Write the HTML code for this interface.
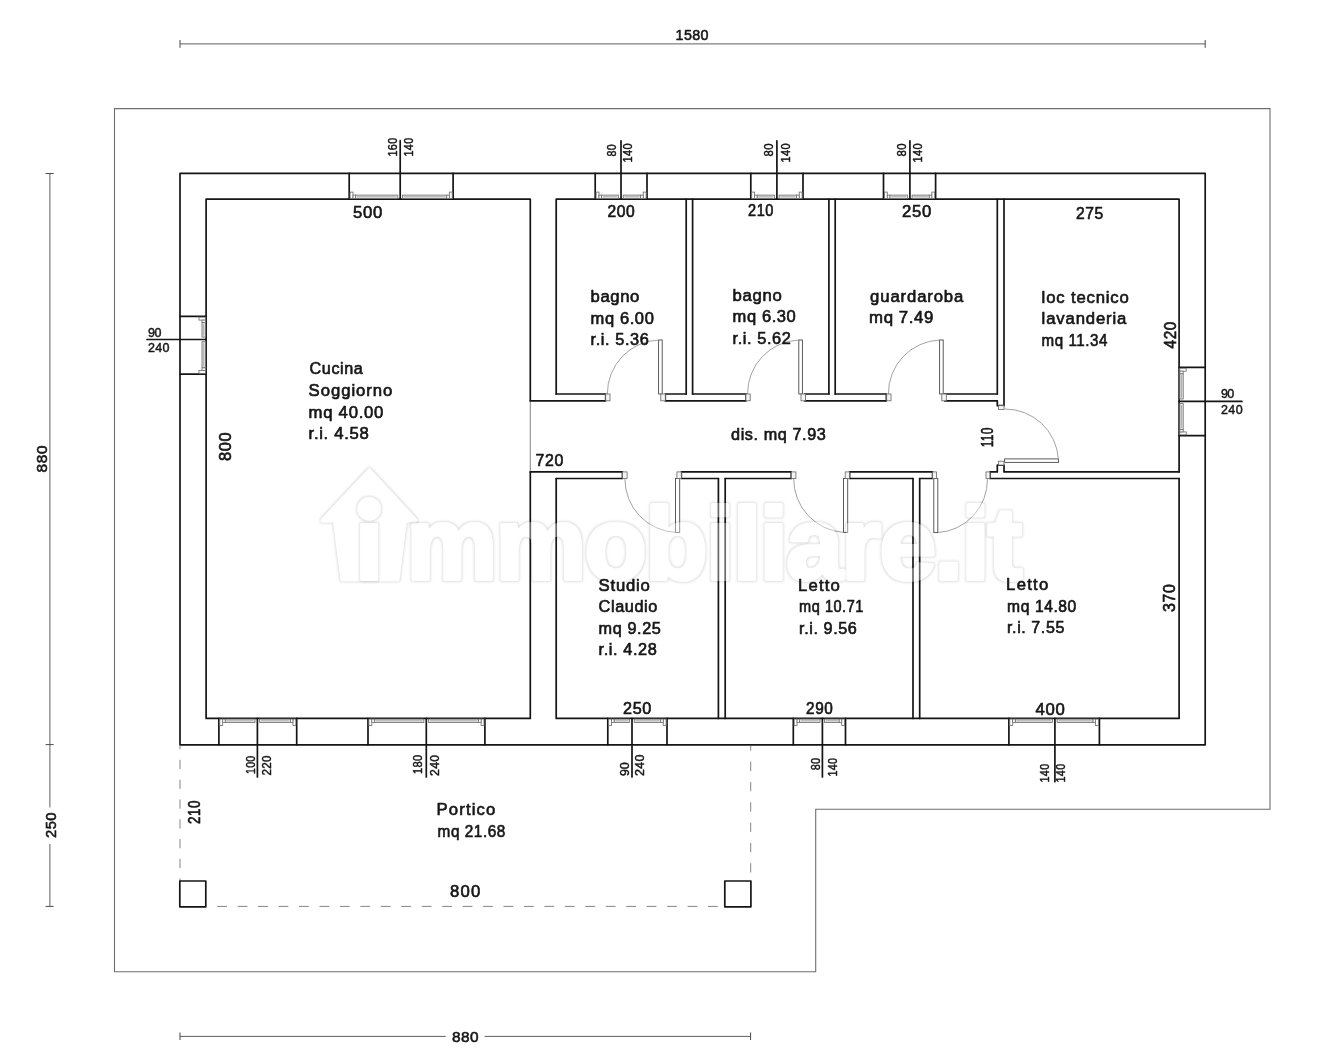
<!DOCTYPE html>
<html lang="it">
<head>
<meta charset="utf-8">
<title>Planimetria</title>
<style>
html,body{margin:0;padding:0;background:#fff;}
body{width:1339px;height:1050px;overflow:hidden;}
svg{display:block;will-change:transform;}
svg text{font-family:"Liberation Sans",sans-serif;fill:#161616;stroke:#161616;stroke-width:.65px;paint-order:stroke;stroke-linejoin:round;}
.tl{letter-spacing:.6px;}
.to{stroke-width:.6px;letter-spacing:.4px;}
.ts{stroke-width:.45px;letter-spacing:.3px;}
.w{fill:none;stroke:#151515;stroke-width:1.7;stroke-linecap:round;stroke-linejoin:round;}
.thin{stroke:#8c8c8c;stroke-width:1.1;}
.site{fill:none;stroke:#6e6e6e;stroke-width:1.1;}
.dim{stroke:#606060;stroke-width:1;}
.tick{stroke:#4a4a4a;stroke-width:1;}
.dash{stroke:#858585;stroke-width:1;fill:none;}
.glass{fill:#e4e4e4;stroke:#6a6a6a;stroke-width:.8;}
.gl2{stroke:#9a9a9a;stroke-width:.7;}
.frm{fill:#fff;stroke:#6a6a6a;stroke-width:.8;}
.leaf{fill:#fff;stroke:#4a4a4a;stroke-width:.9;}
.jamb{fill:#f4f4f4;stroke:#666;stroke-width:.8;}
.arc{fill:none;stroke:#8a8a8a;stroke-width:.8;}
.wm path,.wm text,.wm circle{fill:#fff;stroke:#fff;stroke-width:4px;stroke-linejoin:round;stroke-linecap:round;paint-order:normal;letter-spacing:-1.6px;font-weight:700;}

</style>
</head>
<body>
<svg width="1339" height="1050" viewBox="0 0 1339 1050">
<rect x="0" y="0" width="1339" height="1050" fill="#ffffff"/>
<defs><filter id="wmf" x="-3%" y="-15%" width="106%" height="130%" color-interpolation-filters="sRGB">
<feMorphology in="SourceAlpha" operator="dilate" radius="1.2" result="d"/>
<feGaussianBlur in="d" stdDeviation="0.8" result="b"/>
<feComposite in="b" in2="SourceAlpha" operator="out" result="ring"/>
<feFlood flood-color="#000" flood-opacity="0.12" result="c"/>
<feComposite in="c" in2="ring" operator="in" result="halo"/>
<feComponentTransfer in="SourceGraphic" result="sg"><feFuncA type="linear" slope="0.36"/></feComponentTransfer>
<feMerge><feMergeNode in="halo"/><feMergeNode in="sg"/></feMerge>
</filter></defs>

<g id="site">
<polygon class="site" points="114.5,108.6 1270.0,108.6 1270.0,809.2 815.7,809.2 815.7,971.7 114.5,971.7"/>
</g>
<g id="dims">
<line class="dim" x1="180.0" y1="43.9" x2="1205.2" y2="43.9"/>
<line class="tick" x1="180.0" y1="40.0" x2="180.0" y2="47.8"/>
<line class="tick" x1="1205.2" y1="40.0" x2="1205.2" y2="47.8"/>
<line class="dim" x1="49.9" y1="173.4" x2="49.9" y2="807.5"/>
<line class="dim" x1="49.9" y1="844.0" x2="49.9" y2="906.4"/>
<line class="tick" x1="45.6" y1="173.5" x2="53.6" y2="173.5"/>
<line class="tick" x1="45.6" y1="744.6" x2="53.6" y2="744.6"/>
<line class="tick" x1="45.6" y1="906.4" x2="53.6" y2="906.4"/>
<line class="dim" x1="180.0" y1="1036.4" x2="445.7" y2="1036.4"/>
<line class="dim" x1="484.6" y1="1036.4" x2="750.6" y2="1036.4"/>
<line class="tick" x1="180.0" y1="1032.5" x2="180.0" y2="1040.0"/>
<line class="tick" x1="750.6" y1="1032.5" x2="750.6" y2="1040.0"/>
</g>
<g id="walls">
<rect class="w" x="180.0" y="173.4" width="1025.2" height="571.4"/>
<polyline class="w" points="530.3,400.8 530.3,199.2 206.1,199.2 206.1,718.4 530.3,718.4 530.3,471.9"/>
<line class="thin" x1="530.3" y1="400.8" x2="530.3" y2="471.9"/>
<polyline class="w" points="556.2,394.0 556.2,199.2 1179.1,199.2 1179.1,471.9"/>
<polyline class="w" points="1179.1,478.5 1179.1,718.4 556.2,718.4 556.2,478.5"/>
<line class="w" x1="686.2" y1="199.2" x2="686.2" y2="394.0"/>
<line class="w" x1="692.6" y1="199.2" x2="692.6" y2="394.0"/>
<line class="w" x1="828.9" y1="199.2" x2="828.9" y2="394.0"/>
<line class="w" x1="835.2" y1="199.2" x2="835.2" y2="394.0"/>
<line class="w" x1="997.3" y1="199.2" x2="997.3" y2="394.0"/>
<polyline class="w" points="1004.0,199.2 1004.0,405.7 997.3,405.7 997.3,400.8"/>
<polyline class="w" points="556.2,394.0 605.7,394.0 605.7,400.8 530.3,400.8"/>
<polyline class="w" points="686.2,394.0 665.3,394.0 665.3,400.8 746.1,400.8 746.1,394.0 692.6,394.0"/>
<polyline class="w" points="828.9,394.0 804.6,394.0 804.6,400.8 886.4,400.8 886.4,394.0 835.2,394.0"/>
<polyline class="w" points="997.3,394.0 944.6,394.0 944.6,400.8 997.3,400.8"/>
<polyline class="w" points="530.3,471.9 622.5,471.9 622.5,478.5 556.2,478.5"/>
<polyline class="w" points="718.4,478.5 681.3,478.5 681.3,471.9 791.3,471.9 791.3,478.5 725.2,478.5"/>
<polyline class="w" points="913.0,478.5 849.6,478.5 849.6,471.9 932.6,471.9 932.6,478.5 919.7,478.5"/>
<polyline class="w" points="1179.1,471.9 1004.0,471.9 1004.0,465.1 997.3,465.1 997.3,471.9 989.9,471.9 989.9,478.5 1179.1,478.5"/>
<line class="w" x1="718.4" y1="478.5" x2="718.4" y2="718.4"/>
<line class="w" x1="725.2" y1="478.5" x2="725.2" y2="718.4"/>
<line class="w" x1="913.0" y1="478.5" x2="913.0" y2="718.4"/>
<line class="w" x1="919.7" y1="478.5" x2="919.7" y2="718.4"/>
</g>
<g id="windows">
<line class="w" x1="349.2" y1="173.4" x2="349.2" y2="199.2"/>
<line class="w" x1="453.1" y1="173.4" x2="453.1" y2="199.2"/>
<rect class="glass" x="355.5" y="195.1" width="42.3" height="3.4"/>
<line class="gl2" x1="357.0" y1="196.8" x2="396.3" y2="196.8"/>
<rect class="glass" x="402.4" y="195.1" width="44.4" height="3.4"/>
<line class="gl2" x1="403.9" y1="196.8" x2="445.3" y2="196.8"/>
<rect class="frm" x="350.1" y="192.1" width="2.9" height="6.4"/>
<rect class="frm" x="353.0" y="195.1" width="2.5" height="3.4"/>
<rect class="frm" x="449.3" y="192.1" width="2.9" height="6.4"/>
<rect class="frm" x="446.8" y="195.1" width="2.5" height="3.4"/>
<line class="w" x1="400.2" y1="140.7" x2="400.2" y2="199.2"/>
<line class="w" x1="595.2" y1="173.4" x2="595.2" y2="199.2"/>
<line class="w" x1="647.0" y1="173.4" x2="647.0" y2="199.2"/>
<rect class="glass" x="601.5" y="195.1" width="17.1" height="3.4"/>
<line class="gl2" x1="603.0" y1="196.8" x2="617.1" y2="196.8"/>
<rect class="glass" x="623.2" y="195.1" width="17.5" height="3.4"/>
<line class="gl2" x1="624.7" y1="196.8" x2="639.2" y2="196.8"/>
<rect class="frm" x="596.1" y="192.1" width="2.9" height="6.4"/>
<rect class="frm" x="599.0" y="195.1" width="2.5" height="3.4"/>
<rect class="frm" x="643.2" y="192.1" width="2.9" height="6.4"/>
<rect class="frm" x="640.7" y="195.1" width="2.5" height="3.4"/>
<line class="w" x1="621.0" y1="140.8" x2="621.0" y2="199.2"/>
<line class="w" x1="750.8" y1="173.4" x2="750.8" y2="199.2"/>
<line class="w" x1="803.0" y1="173.4" x2="803.0" y2="199.2"/>
<rect class="glass" x="757.1" y="195.1" width="17.4" height="3.4"/>
<line class="gl2" x1="758.6" y1="196.8" x2="773.0" y2="196.8"/>
<rect class="glass" x="779.1" y="195.1" width="17.6" height="3.4"/>
<line class="gl2" x1="780.6" y1="196.8" x2="795.2" y2="196.8"/>
<rect class="frm" x="751.7" y="192.1" width="2.9" height="6.4"/>
<rect class="frm" x="754.6" y="195.1" width="2.5" height="3.4"/>
<rect class="frm" x="799.2" y="192.1" width="2.9" height="6.4"/>
<rect class="frm" x="796.7" y="195.1" width="2.5" height="3.4"/>
<line class="w" x1="776.9" y1="140.8" x2="776.9" y2="199.2"/>
<line class="w" x1="883.5" y1="173.4" x2="883.5" y2="199.2"/>
<line class="w" x1="935.6" y1="173.4" x2="935.6" y2="199.2"/>
<rect class="glass" x="889.8" y="195.1" width="17.7" height="3.4"/>
<line class="gl2" x1="891.3" y1="196.8" x2="906.0" y2="196.8"/>
<rect class="glass" x="912.1" y="195.1" width="17.2" height="3.4"/>
<line class="gl2" x1="913.6" y1="196.8" x2="927.8" y2="196.8"/>
<rect class="frm" x="884.4" y="192.1" width="2.9" height="6.4"/>
<rect class="frm" x="887.3" y="195.1" width="2.5" height="3.4"/>
<rect class="frm" x="931.8" y="192.1" width="2.9" height="6.4"/>
<rect class="frm" x="929.3" y="195.1" width="2.5" height="3.4"/>
<line class="w" x1="909.9" y1="140.8" x2="909.9" y2="199.2"/>
<line class="w" x1="218.9" y1="718.4" x2="218.9" y2="744.8"/>
<line class="w" x1="296.7" y1="718.4" x2="296.7" y2="744.8"/>
<rect class="glass" x="225.2" y="719.1" width="29.8" height="3.4"/>
<line class="gl2" x1="226.7" y1="720.8" x2="253.5" y2="720.8"/>
<rect class="glass" x="259.6" y="719.1" width="30.8" height="3.4"/>
<line class="gl2" x1="261.1" y1="720.8" x2="288.9" y2="720.8"/>
<rect class="frm" x="219.8" y="719.1" width="2.9" height="6.4"/>
<rect class="frm" x="222.7" y="719.1" width="2.5" height="3.4"/>
<rect class="frm" x="292.9" y="719.1" width="2.9" height="6.4"/>
<rect class="frm" x="290.4" y="719.1" width="2.5" height="3.4"/>
<line class="w" x1="257.4" y1="718.4" x2="257.4" y2="776.9"/>
<line class="w" x1="368.0" y1="718.4" x2="368.0" y2="744.8"/>
<line class="w" x1="484.9" y1="718.4" x2="484.9" y2="744.8"/>
<rect class="glass" x="374.3" y="719.1" width="49.6" height="3.4"/>
<line class="gl2" x1="375.8" y1="720.8" x2="422.4" y2="720.8"/>
<rect class="glass" x="428.5" y="719.1" width="50.1" height="3.4"/>
<line class="gl2" x1="430.0" y1="720.8" x2="477.1" y2="720.8"/>
<rect class="frm" x="368.9" y="719.1" width="2.9" height="6.4"/>
<rect class="frm" x="371.8" y="719.1" width="2.5" height="3.4"/>
<rect class="frm" x="481.1" y="719.1" width="2.9" height="6.4"/>
<rect class="frm" x="478.6" y="719.1" width="2.5" height="3.4"/>
<line class="w" x1="426.3" y1="718.4" x2="426.3" y2="776.9"/>
<line class="w" x1="607.8" y1="718.4" x2="607.8" y2="744.8"/>
<line class="w" x1="667.0" y1="718.4" x2="667.0" y2="744.8"/>
<rect class="glass" x="614.1" y="719.1" width="15.5" height="3.4"/>
<line class="gl2" x1="615.6" y1="720.8" x2="628.1" y2="720.8"/>
<rect class="glass" x="634.2" y="719.1" width="26.5" height="3.4"/>
<line class="gl2" x1="635.7" y1="720.8" x2="659.2" y2="720.8"/>
<rect class="frm" x="608.7" y="719.1" width="2.9" height="6.4"/>
<rect class="frm" x="611.6" y="719.1" width="2.5" height="3.4"/>
<rect class="frm" x="663.2" y="719.1" width="2.9" height="6.4"/>
<rect class="frm" x="660.7" y="719.1" width="2.5" height="3.4"/>
<line class="w" x1="632.0" y1="718.4" x2="632.0" y2="776.9"/>
<line class="w" x1="793.3" y1="718.4" x2="793.3" y2="744.8"/>
<line class="w" x1="845.5" y1="718.4" x2="845.5" y2="744.8"/>
<rect class="glass" x="799.6" y="719.1" width="20.4" height="3.4"/>
<line class="gl2" x1="801.1" y1="720.8" x2="818.5" y2="720.8"/>
<rect class="glass" x="824.6" y="719.1" width="14.6" height="3.4"/>
<line class="gl2" x1="826.1" y1="720.8" x2="837.7" y2="720.8"/>
<rect class="frm" x="794.2" y="719.1" width="2.9" height="6.4"/>
<rect class="frm" x="797.1" y="719.1" width="2.5" height="3.4"/>
<rect class="frm" x="841.7" y="719.1" width="2.9" height="6.4"/>
<rect class="frm" x="839.2" y="719.1" width="2.5" height="3.4"/>
<line class="w" x1="822.4" y1="718.4" x2="822.4" y2="776.9"/>
<line class="w" x1="1008.9" y1="718.4" x2="1008.9" y2="744.8"/>
<line class="w" x1="1099.4" y1="718.4" x2="1099.4" y2="744.8"/>
<rect class="glass" x="1015.2" y="719.1" width="37.3" height="3.4"/>
<line class="gl2" x1="1016.7" y1="720.8" x2="1051.0" y2="720.8"/>
<rect class="glass" x="1057.1" y="719.1" width="36.0" height="3.4"/>
<line class="gl2" x1="1058.6" y1="720.8" x2="1091.6" y2="720.8"/>
<rect class="frm" x="1009.8" y="719.1" width="2.9" height="6.4"/>
<rect class="frm" x="1012.7" y="719.1" width="2.5" height="3.4"/>
<rect class="frm" x="1095.6" y="719.1" width="2.9" height="6.4"/>
<rect class="frm" x="1093.1" y="719.1" width="2.5" height="3.4"/>
<line class="w" x1="1054.9" y1="718.4" x2="1054.9" y2="781.7"/>
<line class="w" x1="180.0" y1="316.3" x2="206.1" y2="316.3"/>
<line class="w" x1="180.0" y1="374.2" x2="206.1" y2="374.2"/>
<rect class="glass" x="202.0" y="322.6" width="3.4" height="14.5"/>
<line class="gl2" x1="203.7" y1="324.1" x2="203.7" y2="335.6"/>
<rect class="glass" x="202.0" y="341.7" width="3.4" height="26.2"/>
<line class="gl2" x1="203.7" y1="343.2" x2="203.7" y2="366.4"/>
<rect class="frm" x="199.0" y="317.2" width="6.4" height="2.9"/>
<rect class="frm" x="202.0" y="320.1" width="3.4" height="2.5"/>
<rect class="frm" x="199.0" y="370.4" width="6.4" height="2.9"/>
<rect class="frm" x="202.0" y="367.9" width="3.4" height="2.5"/>
<line class="w" x1="147.0" y1="339.5" x2="206.1" y2="339.5"/>
<line class="w" x1="1179.1" y1="367.4" x2="1205.2" y2="367.4"/>
<line class="w" x1="1179.1" y1="435.7" x2="1205.2" y2="435.7"/>
<rect class="glass" x="1179.8" y="373.7" width="3.4" height="25.3"/>
<line class="gl2" x1="1181.5" y1="375.2" x2="1181.5" y2="397.5"/>
<rect class="glass" x="1179.8" y="403.6" width="3.4" height="25.8"/>
<line class="gl2" x1="1181.5" y1="405.1" x2="1181.5" y2="427.9"/>
<rect class="frm" x="1179.8" y="368.3" width="6.4" height="2.9"/>
<rect class="frm" x="1179.8" y="371.2" width="3.4" height="2.5"/>
<rect class="frm" x="1179.8" y="431.9" width="6.4" height="2.9"/>
<rect class="frm" x="1179.8" y="429.4" width="3.4" height="2.5"/>
<line class="w" x1="1179.1" y1="401.4" x2="1241.9" y2="401.4"/>
</g>
<g id="doors">
<rect class="leaf" x="658.6" y="340.0" width="3.6" height="54.0"/>
<path class="arc" d="M658.6,340.0 A53.5,53.5 0 0 0 607.4,394.0"/>
<rect class="jamb" x="605.7" y="394.0" width="4.3" height="6.8"/>
<rect class="jamb" x="660.8" y="394.0" width="4.5" height="6.8"/>
<rect class="leaf" x="798.8" y="340.0" width="3.6" height="54.0"/>
<path class="arc" d="M798.8,340.0 A53.5,53.5 0 0 0 747.6,394.0"/>
<rect class="jamb" x="745.9" y="394.0" width="4.3" height="6.8"/>
<rect class="jamb" x="801.0" y="394.0" width="4.5" height="6.8"/>
<rect class="leaf" x="939.6" y="340.0" width="3.6" height="54.0"/>
<path class="arc" d="M939.6,340.0 A53.5,53.5 0 0 0 888.4,394.0"/>
<rect class="jamb" x="886.7" y="394.0" width="4.3" height="6.8"/>
<rect class="jamb" x="941.8" y="394.0" width="4.5" height="6.8"/>
<rect class="leaf" x="675.5" y="478.5" width="4.2" height="53.9"/>
<path class="arc" d="M675.5,532.4 A53.5,53.5 0 0 1 624.9,478.5"/>
<rect class="jamb" x="622.5" y="471.9" width="4.6" height="6.6"/>
<rect class="jamb" x="676.9" y="471.9" width="4.4" height="6.6"/>
<rect class="leaf" x="843.5" y="478.5" width="4.2" height="53.9"/>
<path class="arc" d="M843.5,532.4 A53.5,53.5 0 0 1 793.7,478.5"/>
<rect class="jamb" x="791.3" y="471.9" width="4.6" height="6.6"/>
<rect class="jamb" x="845.2" y="471.9" width="4.4" height="6.6"/>
<rect class="leaf" x="933.8" y="478.5" width="4.0" height="54.1"/>
<path class="arc" d="M937.8,532.6 A53.0,53.0 0 0 0 987.4,478.5"/>
<rect class="jamb" x="932.6" y="471.9" width="4.0" height="6.6"/>
<rect class="jamb" x="986.0" y="471.9" width="3.9" height="6.6"/>
<rect class="leaf" x="1004.6" y="458.9" width="53.8" height="3.5"/>
<path class="arc" d="M1058.4,458.9 A53.5,53.5 0 0 0 1004.8,409.0"/>
<rect class="jamb" x="998.6" y="405.7" width="5.4" height="3.9"/>
<rect class="jamb" x="998.6" y="461.2" width="5.4" height="3.9"/>
</g>
<g id="portico">
<line class="dash" x1="180.0" y1="745.8" x2="180.0" y2="881" stroke-dasharray="9.3 10.5" stroke-dashoffset="5.8"/>
<line class="dash" x1="750.7" y1="745.8" x2="750.7" y2="881" stroke-dasharray="9.3 11" stroke-dashoffset="4.4"/>
<line class="dash" x1="217.2" y1="906.4" x2="724.8" y2="906.4" stroke-dasharray="9.8 10.65"/>
<rect class="w" x="179.8" y="881.0" width="26.0" height="25.8"/>
<rect class="w" x="724.8" y="881.0" width="26.1" height="25.8"/>
</g>
<g id="wm" class="wm"><path filter="url(#wmf)" d="M369.4,470.4 L415.5,520.4 L405,520.4 L397.6,579.2 L342.4,579.2 L335,520.4 L322.5,520.4 Z"/><g filter="url(#wmf)"><circle cx="369.2" cy="508.9" r="9.8"/>
<text x="355 406.4" y="578.8" font-size="102">immobiliare.it</text></g></g>
<g id="labels">
<text class="tl" x="309.60" y="373.90" font-size="16.7" textLength="53.80" lengthAdjust="spacingAndGlyphs">Cucina</text>
<text class="tl" x="308.60" y="396.00" font-size="16.7" textLength="84.31" lengthAdjust="spacing">Soggiorno</text>
<text class="tl" x="308.60" y="417.90" font-size="16.7" textLength="75.31" lengthAdjust="spacing">mq 40.00</text>
<text class="tl" x="308.59" y="439.00" font-size="16.7" textLength="60.82" lengthAdjust="spacing">r.i. 4.58</text>
<text class="tl" x="590.59" y="302.30" font-size="16.7" textLength="49.31" lengthAdjust="spacingAndGlyphs">bagno</text>
<text class="tl" x="590.59" y="323.80" font-size="16.7" textLength="63.83" lengthAdjust="spacingAndGlyphs">mq 6.00</text>
<text class="tl" x="590.59" y="345.30" font-size="16.7" textLength="58.81" lengthAdjust="spacingAndGlyphs">r.i. 5.36</text>
<text class="tl" x="732.59" y="300.50" font-size="16.7" textLength="49.82" lengthAdjust="spacing">bagno</text>
<text class="tl" x="732.59" y="322.30" font-size="16.7" textLength="63.81" lengthAdjust="spacingAndGlyphs">mq 6.30</text>
<text class="tl" x="732.59" y="343.80" font-size="16.7" textLength="58.81" lengthAdjust="spacingAndGlyphs">r.i. 5.62</text>
<text class="tl" x="870.11" y="301.70" font-size="16.7" textLength="93.79" lengthAdjust="spacing">guardaroba</text>
<text class="tl" x="869.08" y="323.30" font-size="16.7" textLength="64.85" lengthAdjust="spacingAndGlyphs">mq 7.49</text>
<text class="tl" x="1041.60" y="302.50" font-size="16.7" textLength="87.80" lengthAdjust="spacing">loc tecnico</text>
<text class="tl" x="1041.60" y="323.80" font-size="16.7" textLength="85.31" lengthAdjust="spacing">lavanderia</text>
<text class="tl" x="1041.61" y="345.70" font-size="16.7" textLength="66.29" lengthAdjust="spacingAndGlyphs">mq 11.34</text>
<text class="tl" x="731.10" y="440.00" font-size="16.7" textLength="95.29" lengthAdjust="spacingAndGlyphs">dis. mq 7.93</text>
<text class="tl" x="598.60" y="590.60" font-size="16.7" textLength="51.80" lengthAdjust="spacing">Studio</text>
<text class="tl" x="598.61" y="612.30" font-size="16.7" textLength="59.29" lengthAdjust="spacingAndGlyphs">Claudio</text>
<text class="tl" x="598.60" y="633.80" font-size="16.7" textLength="62.80" lengthAdjust="spacingAndGlyphs">mq 9.25</text>
<text class="tl" x="598.60" y="655.30" font-size="16.7" textLength="58.80" lengthAdjust="spacingAndGlyphs">r.i. 4.28</text>
<text class="tl" x="798.07" y="590.60" font-size="16.7" textLength="42.37" lengthAdjust="spacing">Letto</text>
<text class="tl" x="799.10" y="612.30" font-size="16.7" textLength="64.80" lengthAdjust="spacingAndGlyphs">mq 10.71</text>
<text class="tl" x="799.09" y="633.80" font-size="16.7" textLength="58.30" lengthAdjust="spacingAndGlyphs">r.i. 9.56</text>
<text class="tl" x="1006.07" y="589.60" font-size="16.7" textLength="42.87" lengthAdjust="spacing">Letto</text>
<text class="tl" x="1007.10" y="611.60" font-size="16.7" textLength="69.80" lengthAdjust="spacingAndGlyphs">mq 14.80</text>
<text class="tl" x="1007.10" y="633.10" font-size="16.7" textLength="57.79" lengthAdjust="spacingAndGlyphs">r.i. 7.55</text>
<text class="tl" x="436.59" y="815.30" font-size="16.7" textLength="59.31" lengthAdjust="spacing">Portico</text>
<text class="tl" x="437.59" y="836.80" font-size="16.7" textLength="68.31" lengthAdjust="spacingAndGlyphs">mq 21.68</text>
<text class="tl" x="353.10" y="218.30" font-size="16.7" textLength="29.78" lengthAdjust="spacing">500</text>
<text class="tl" x="607.60" y="217.40" font-size="16.7" textLength="27.77" lengthAdjust="spacingAndGlyphs">200</text>
<text class="tl" x="748.10" y="216.00" font-size="16.7" textLength="25.80" lengthAdjust="spacingAndGlyphs">210</text>
<text class="tl" x="902.10" y="216.60" font-size="16.7" textLength="29.78" lengthAdjust="spacing">250</text>
<text class="tl" x="1076.11" y="218.60" font-size="16.7" textLength="27.76" lengthAdjust="spacingAndGlyphs">275</text>
<text class="tl" x="535.60" y="465.70" font-size="16.7" textLength="28.27" lengthAdjust="spacingAndGlyphs">720</text>
<text class="tl" x="623.09" y="714.20" font-size="16.7" textLength="28.80" lengthAdjust="spacingAndGlyphs">250</text>
<text class="tl" x="806.11" y="714.20" font-size="16.7" textLength="27.27" lengthAdjust="spacingAndGlyphs">290</text>
<text class="tl" x="1035.60" y="715.10" font-size="16.7" textLength="29.80" lengthAdjust="spacing">400</text>
<text class="tl" x="450.09" y="896.50" font-size="16.7" textLength="30.84" lengthAdjust="spacing">800</text>
<text class="to" x="675.57" y="39.50" font-size="15.4" textLength="33.36" lengthAdjust="spacingAndGlyphs">1580</text>
<text class="to" x="452.12" y="1041.90" font-size="15.4" textLength="26.77" lengthAdjust="spacing">880</text>
<text class="ts" x="148.12" y="336.70" font-size="12.5" textLength="13.74" lengthAdjust="spacing">90</text>
<text class="ts" x="148.12" y="352.40" font-size="12.5" textLength="21.76" lengthAdjust="spacing">240</text>
<text class="ts" x="1221.09" y="398.10" font-size="12.5" textLength="13.31" lengthAdjust="spacing">90</text>
<text class="ts" x="1221.09" y="413.80" font-size="12.5" textLength="21.81" lengthAdjust="spacing">240</text>
<text class="tl" transform="translate(230.60,460.91) rotate(-90)" font-size="16.7" textLength="29.30" lengthAdjust="spacingAndGlyphs">800</text>
<text class="tl" transform="translate(1176.00,348.39) rotate(-90)" font-size="16.7" textLength="27.25" lengthAdjust="spacingAndGlyphs">420</text>
<text class="tl" transform="translate(1175.30,611.92) rotate(-90)" font-size="16.7" textLength="28.32" lengthAdjust="spacingAndGlyphs">370</text>
<text class="tl" transform="translate(993.40,447.36) rotate(-90)" font-size="16.7" textLength="20.24" lengthAdjust="spacingAndGlyphs">110</text>
<text class="tl" transform="translate(200.20,823.91) rotate(-90)" font-size="16.7" textLength="23.80" lengthAdjust="spacingAndGlyphs">210</text>
<text class="to" transform="translate(47.00,472.39) rotate(-90)" font-size="15.4" textLength="27.30" lengthAdjust="spacing">880</text>
<text class="to" transform="translate(55.60,837.90) rotate(-90)" font-size="15.4" textLength="25.77" lengthAdjust="spacingAndGlyphs">250</text>
<text class="ts" transform="translate(397.20,156.39) rotate(-90)" font-size="12.5" textLength="18.80" lengthAdjust="spacingAndGlyphs">160</text>
<text class="ts" transform="translate(413.30,156.39) rotate(-90)" font-size="12.5" textLength="18.80" lengthAdjust="spacingAndGlyphs">140</text>
<text class="ts" transform="translate(616.10,156.40) rotate(-90)" font-size="12.5" textLength="12.40" lengthAdjust="spacingAndGlyphs">80</text>
<text class="ts" transform="translate(631.80,162.38) rotate(-90)" font-size="12.5" textLength="19.27" lengthAdjust="spacingAndGlyphs">140</text>
<text class="ts" transform="translate(773.40,156.41) rotate(-90)" font-size="12.5" textLength="13.24" lengthAdjust="spacingAndGlyphs">80</text>
<text class="ts" transform="translate(789.60,162.38) rotate(-90)" font-size="12.5" textLength="19.27" lengthAdjust="spacingAndGlyphs">140</text>
<text class="ts" transform="translate(906.20,156.41) rotate(-90)" font-size="12.5" textLength="13.24" lengthAdjust="spacingAndGlyphs">80</text>
<text class="ts" transform="translate(922.30,162.38) rotate(-90)" font-size="12.5" textLength="19.27" lengthAdjust="spacingAndGlyphs">140</text>
<text class="ts" transform="translate(254.90,773.93) rotate(-90)" font-size="12.5" textLength="18.39" lengthAdjust="spacingAndGlyphs">100</text>
<text class="ts" transform="translate(270.90,775.40) rotate(-90)" font-size="12.5" textLength="20.29" lengthAdjust="spacingAndGlyphs">220</text>
<text class="ts" transform="translate(422.40,773.94) rotate(-90)" font-size="12.5" textLength="19.36" lengthAdjust="spacingAndGlyphs">180</text>
<text class="ts" transform="translate(438.50,775.90) rotate(-90)" font-size="12.5" textLength="21.32" lengthAdjust="spacingAndGlyphs">240</text>
<text class="ts" transform="translate(628.50,775.90) rotate(-90)" font-size="12.5" textLength="13.80" lengthAdjust="spacing">90</text>
<text class="ts" transform="translate(643.80,775.90) rotate(-90)" font-size="12.5" textLength="21.78" lengthAdjust="spacing">240</text>
<text class="ts" transform="translate(820.20,770.35) rotate(-90)" font-size="12.5" textLength="12.73" lengthAdjust="spacingAndGlyphs">80</text>
<text class="ts" transform="translate(836.50,776.43) rotate(-90)" font-size="12.5" textLength="18.82" lengthAdjust="spacingAndGlyphs">140</text>
<text class="ts" transform="translate(1048.90,782.39) rotate(-90)" font-size="12.5" textLength="18.80" lengthAdjust="spacingAndGlyphs">140</text>
<text class="ts" transform="translate(1065.00,782.39) rotate(-90)" font-size="12.5" textLength="18.80" lengthAdjust="spacingAndGlyphs">140</text>
</g>
</svg>
</body>
</html>
